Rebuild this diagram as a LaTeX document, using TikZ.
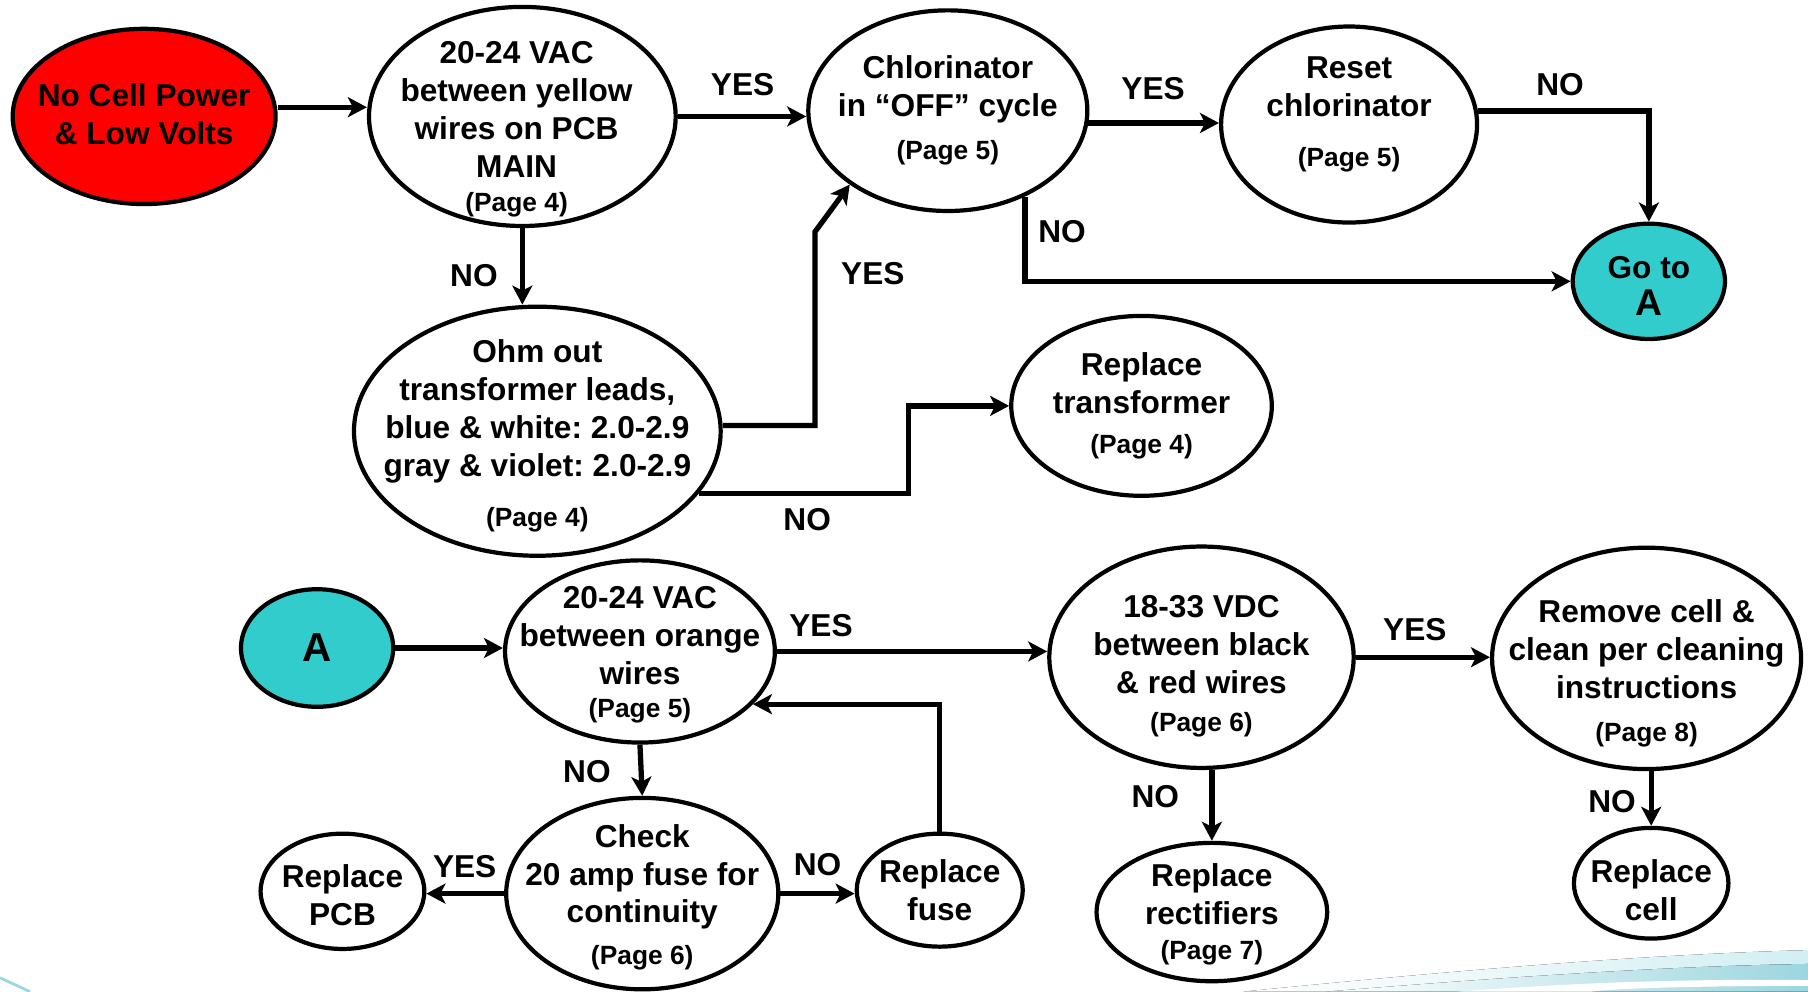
\documentclass[tikz,border=0pt]{standalone}
\usepackage{fontspec}
\setmainfont{Liberation Sans}
\usetikzlibrary{shapes.geometric}
\usetikzlibrary{arrows.meta}
\usepackage{xcolor}

\newdimen\pxu
\pxu=0.11531mm
\newcommand{\pg}[1]{{\fontsize{7.5}{9}\selectfont(Page #1)}}
\definecolor{cellred}{HTML}{FF0000}
\definecolor{goteal}{HTML}{33CCCC}
\definecolor{swooshlight}{HTML}{D2EFF3}
\definecolor{swooshdark}{HTML}{9CD6DF}

\tikzset{
	stepnode/.style={draw, ellipse, line width=1.2pt, inner sep=0pt},
	txt/.style={align=center, inner sep=0pt, font=\frenchspacing\bfseries\fontsize{9}{10.8}\selectfont},
	answer/.style={inner sep=0pt, font=\bfseries\fontsize{9}{10.8}\selectfont},
	flow/.style={-{Stealth[length=1.9mm,width=2mm,inset=0.5mm]}, line width=1.5pt},
}

\begin{document}
\begin{tikzpicture}[x=\pxu, y=-\pxu]
	\useasboundingbox (0,0) rectangle (1568,860);
	% slide decoration
	\fill[left color=white, right color=swooshlight] (1078,860) .. controls (1260,842) and (1420,828) .. (1568,824) -- (1568,860) -- cycle;
	\fill[left color=white, right color=swooshdark] (1150,860) .. controls (1300,848) and (1440,838) .. (1568,836) -- (1568,860) -- cycle;
	\fill[white] (1264,860) .. controls (1380,851) and (1480,849) .. (1568,850) -- (1568,855) .. controls (1480,855) and (1400,857) .. (1380,860) -- cycle;
	\draw[swooshdark, line width=0.8pt] (0,848) -- (26,860);

	% top chart
	\node[stepnode, fill=cellred, minimum width=228\pxu, minimum height=152\pxu, label={[txt, yshift=2\pxu]center:{No Cell Power\\\& Low Volts}}] (red) at (125,101) {};
	\node[stepnode, minimum width=266\pxu, minimum height=190\pxu, label={[txt, xshift=-5\pxu, yshift=-11\pxu]center:{20-24 VAC\\between yellow\\wires on PCB\\MAIN\\[-1pt]\pg{4}}}] (vacY) at (453,101) {};
	\node[stepnode, minimum width=242\pxu, minimum height=174\pxu, label={[txt]center:{Chlorinator\\in “OFF” cycle\\[1.5pt]\pg{5}}}] (chlor) at (822,96) {};
	\node[stepnode, minimum width=222\pxu, minimum height=170\pxu, label={[txt, yshift=9\pxu]center:{Reset\\chlorinator\\[3.5pt]\pg{5}}}] (reset) at (1170,108) {};
	\node[stepnode, fill=goteal, minimum width=132\pxu, minimum height=100\pxu, label={[txt, yshift=-4\pxu]center:{Go to\\{\fontsize{10.6}{12}\selectfont A}}}] (goA) at (1430,244) {};
	\node[stepnode, minimum width=318\pxu, minimum height=216\pxu, label={[txt, yshift=-4\pxu]center:{Ohm out\\transformer leads,\\blue \& white: 2.0-2.9\\gray \& violet: 2.0-2.9\\[3.2pt]\pg{4}}}] (ohm) at (466,374) {};
	\node[stepnode, minimum width=226\pxu, minimum height=156\pxu, label={[txt]center:{Replace\\transformer\\[0.7pt]\pg{4}}}] (trf) at (990,352) {};

	\draw[flow] ([yshift=8\pxu]red.east) -- ([yshift=8\pxu]vacY.west);
	\draw[flow] (vacY.east) -- (vacY.east -| chlor.west);
	\draw[flow] (vacY.south) -- (vacY.south |- ohm.north);
	\draw[flow] ([yshift=5\pxu]ohm.east) -| ++(80,-168) -- (chlor.217);
	\draw[flow] (ohm.-21) -- ++(182,0) |- (trf.west);
	\draw[flow] (chlor.-5) -- (chlor.-5 -| reset.west);
	\draw[flow] (chlor.-48) |- (goA.west);
	\draw[flow] (reset.6) -| (goA.north);

	\node[answer] (yes1) at (644,73) {YES};
	\node[answer] (no1) at (411,239) {NO};
	\node[answer] (yes2) at (757,237) {YES};
	\node[answer] (no2) at (700,451) {NO};
	\node[answer] (yes3) at (1000,77) {YES};
	\node[answer] (no3) at (921,201) {NO};
	\node[answer] (no4) at (1353,73) {NO};

	% bottom chart
	\node[stepnode, fill=goteal, minimum width=132\pxu, minimum height=102\pxu, label={[txt]center:{\fontsize{11.5}{13}\selectfont A}}] (A) at (275,562) {};
	\node[stepnode, minimum width=234\pxu, minimum height=158\pxu, label={[txt, yshift=-3\pxu]center:{20-24 VAC\\between orange\\wires\\[-1.3pt]\pg{5}}}] (orng) at (555,565) {};
	\node[stepnode, minimum width=236\pxu, minimum height=166\pxu, label={[txt, yshift=-3\pxu]center:{Check\\20 amp fuse for\\continuity\\[1pt]\pg{6}}}] (check) at (557,775) {};
	\node[stepnode, minimum width=142\pxu, minimum height=100\pxu, label={[txt, yshift=-3\pxu]center:{Replace\\PCB}}] (pcb) at (297,773) {};
	\node[stepnode, minimum width=144\pxu, minimum height=98\pxu, label={[txt]center:{Replace\\fuse}}] (fuse) at (815,772) {};
	\node[stepnode, minimum width=264\pxu, minimum height=192\pxu, label={[txt, yshift=-8\pxu]center:{18-33 VDC\\between black\\\& red wires\\\pg{6}}}] (dc) at (1042,570) {};
	\node[stepnode, minimum width=268\pxu, minimum height=192\pxu, label={[txt, yshift=-13\pxu]center:{Remove cell \&\\clean per cleaning\\instructions\\[1.6pt]\pg{8}}}] (rem) at (1428,571) {};
	\node[stepnode, minimum width=200\pxu, minimum height=120\pxu, label={[txt, yshift=-2\pxu]center:{Replace\\rectifiers\\[-0.6pt]\pg{7}}}] (rect) at (1051,791) {};
	\node[stepnode, minimum width=134\pxu, minimum height=96\pxu, label={[txt, yshift=-6\pxu]center:{Replace\\cell}}] (cell) at (1432,766) {};

	\draw[flow] (A.east) -- (A.east -| orng.west);
	\draw[flow] (orng.east) -- (orng.east -| dc.west);
	\draw[flow] (orng.south) -- (check.north);
	\draw[flow] (check.west) -- (check.west -| pcb.east);
	\draw[flow] (check.east) -- (check.east -| fuse.west);
	\draw[flow] (fuse.north) |- (orng.-25);
	\draw[flow] (dc.east) -- (dc.east -| rem.west);
	\draw[flow] (dc.south -| rect.north) -- (rect.north);
	\draw[flow] (rem.south -| cell.north) -- (cell.north);

	\node[answer] (yes4) at (712,543) {YES};
	\node[answer] (no5) at (509,669) {NO};
	\node[answer] (yes5) at (403,752) {YES};
	\node[answer] (no6) at (709,750) {NO};
	\node[answer] (yes6) at (1227,546) {YES};
	\node[answer] (no7) at (1002,691) {NO};
	\node[answer] (no8) at (1398,695) {NO};
\end{tikzpicture}
\end{document}
